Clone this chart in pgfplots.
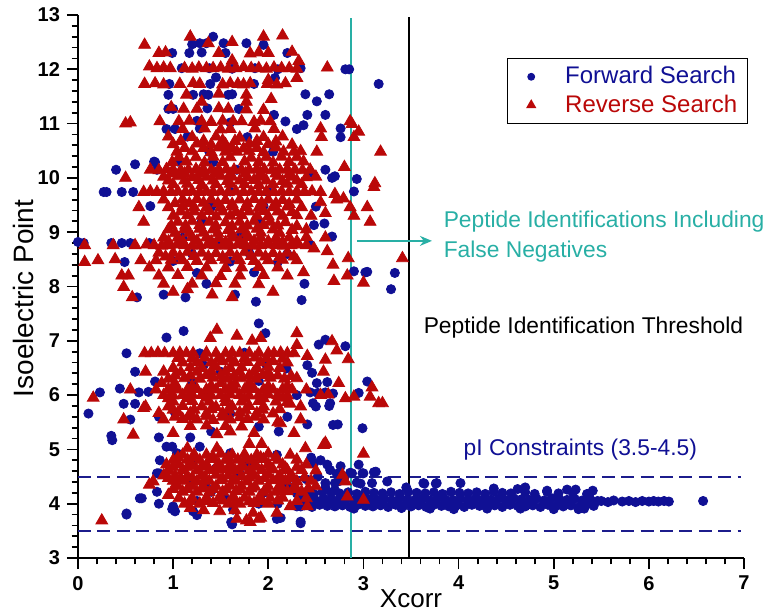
\documentclass[border=0pt]{standalone}
\usepackage{fontspec}
\setmainfont{Liberation Sans}
\usepackage{pgfplots}
\pgfplotsset{compat=1.18}
\usetikzlibrary{arrows.meta}
\definecolor{fwd}{RGB}{16,16,148}
\definecolor{rev}{RGB}{186,8,8}
\definecolor{tealc}{RGB}{40,175,165}
\definecolor{dashc}{RGB}{28,28,140}
\newcommand{\annfont}{\fontsize{11.4}{15}\selectfont}

\begin{document}
\begin{tikzpicture}
\begin{axis}[
  scale only axis, width=333pt, height=271.5pt,
  xmin=0, xmax=7, ymin=3, ymax=13,
  axis lines=left, axis line style={-, line width=1pt},
  clip=false,
  xtick={0,...,7}, ytick={3,...,13},
  minor x tick num=4, minor y tick num=4,
  tick align=outside,
  major tick length=5.5pt, minor tick length=3.2pt,
  tick style={black, line width=0.9pt},
  ticklabel style={font=\bfseries\fontsize{10}{12}\selectfont},
  /pgf/number format/assume math mode=true,
  xlabel={Xcorr}, ylabel={Isoelectric Point},
  xlabel style={at={(axis description cs:0.5,0)}, anchor=base, yshift=-24.5pt, font=\fontsize{13}{15}\selectfont},
  ylabel style={at={(axis description cs:-0.0811,0.478)}, anchor=center, font=\fontsize{14}{16}\selectfont},
  legend style={at={(rel axis cs:1.006,0.921)}, anchor=north east, draw=black, line width=0.7pt,
    font=\fontsize{12}{14}\selectfont, cells={anchor=west}},
  legend image code/.code={\path[draw=none] (0pt,0pt) -- (24pt,0pt); \path[#1, draw=none] plot coordinates {(9pt,0pt)};},
]
\addlegendimage{only marks, mark=*, mark size=1.6pt, color=fwd, mark options={draw=fwd}}
\addlegendentry{\textcolor{fwd}{Forward Search}}
\addlegendimage{only marks, mark=triangle*, mark size=2.3pt, color=rev, mark options={draw=rev}}
\addlegendentry{\textcolor{rev}{Reverse Search}}

% forward search, upper group
\addplot[only marks, mark=*, mark size=2.3pt, color=fwd, forget plot] coordinates {
(1.42,12.60)(1.20,12.46)(1.28,12.48)(1.35,12.48)(1.53,12.48)(1.77,12.48)(1.95,12.45)
(0.99,12.30)(1.17,12.30)(1.30,12.31)(1.55,12.30)(2.20,12.30)
(1.09,12.02)(1.38,12.02)(1.62,12.01)(1.86,12.02)(2.10,12.00)(2.34,12.02)(2.81,12.00)(2.85,12.00)
(2.07,11.84)(1.45,11.85)(0.96,11.73)(1.39,11.73)(1.85,11.73)(3.16,11.73)
(0.95,11.53)(1.21,11.53)(1.32,11.54)(1.37,11.53)(1.58,11.53)(1.62,11.54)(2.39,11.54)(2.64,11.54)(2.51,11.41)
(0.95,11.27)(1.00,11.27)(1.36,11.28)(1.69,11.27)(2.41,11.16)(2.60,11.16)(2.06,11.16)
(2.18,11.04)(1.25,11.05)(1.60,11.02)(0.93,10.90)(1.02,10.90)(1.28,10.91)(2.30,10.90)(2.37,10.97)(2.76,10.91)
(2.76,10.75)(1.15,10.76)(1.78,10.75)(1.38,10.48)(2.05,10.48)(0.81,10.29)(1.42,10.29)(1.05,10.30)
(0.40,10.15)(0.60,10.25)(0.80,10.30)(0.83,10.15)(1.67,10.15)(2.44,10.10)(2.60,10.15)
(2.67,10.00)(2.93,9.98)(2.70,10.03)
(0.27,9.74)(0.30,9.74)(0.46,9.74)(0.58,9.74)(1.60,9.75)(2.00,9.74)(2.90,9.75)
(0.76,9.48)(1.40,9.47)(1.95,9.48)(2.50,9.47)(2.48,9.13)(2.59,9.16)(1.30,9.19)(1.90,9.20)
(2.67,8.92)(1.10,8.90)(1.70,8.91)
(0.00,8.82)(0.06,8.80)(0.35,8.80)(0.46,8.80)(0.55,8.80)(0.75,8.80)(1.50,8.78)(2.44,8.77)
(1.20,8.60)(1.80,8.62)(2.20,8.60)(0.49,8.45)(1.00,8.47)(1.60,8.46)(2.10,8.45)
(3.02,8.26)(2.90,8.28)(3.04,8.27)(3.33,8.25)(1.25,8.25)(1.85,8.26)(2.38,8.05)(3.29,7.95)(1.35,8.05)
(0.62,7.80)(0.90,7.85)(1.13,7.80)(1.87,7.72)(2.35,7.75)(1.65,7.85)
};
% forward search, middle group
\addplot[only marks, mark=*, mark size=2.3pt, color=fwd, forget plot] coordinates {
(1.90,7.32)(1.11,7.18)(0.93,7.06)(1.97,7.14)(2.53,6.93)(2.60,7.02)(2.81,6.90)
(0.51,6.77)(1.28,6.77)(1.75,6.78)(2.41,6.55)(1.32,6.55)(1.98,6.56)
(0.60,6.43)(1.50,6.43)(2.19,6.49)(2.46,6.41)(0.81,6.25)(2.51,6.22)(2.62,6.24)(3.04,6.25)(1.20,6.25)(1.90,6.26)
(0.23,6.05)(0.44,6.12)(0.64,6.05)(0.74,6.06)(2.44,6.05)(2.52,6.04)(2.60,6.05)(2.68,6.03)(2.95,6.04)(2.30,6.00)(1.35,6.05)
(0.48,5.84)(0.60,5.84)(2.47,5.85)(2.65,5.85)(2.50,5.79)(2.64,5.80)
(0.11,5.66)(1.02,5.67)(1.60,5.66)(0.55,5.55)(0.85,5.60)(2.20,5.60)
(2.41,5.46)(2.73,5.46)(2.68,5.45)(1.90,5.42)(2.11,5.33)(2.99,5.39)(1.40,5.33)
(0.35,5.25)(0.85,5.22)(1.18,5.22)(0.36,5.17)
};
% forward search, lower group
\addplot[only marks, mark=*, mark size=2.3pt, color=fwd, forget plot] coordinates {
(0.93,5.05)(1.28,5.05)(0.99,5.05)(1.04,4.93)(2.09,4.90)(1.60,4.93)
(2.48,4.74)(2.62,4.72)(2.76,4.69)(2.95,4.72)(0.86,4.80)(1.20,4.74)
(0.83,4.56)(0.85,4.56)(2.86,4.57)(3.00,4.56)(3.11,4.58)(3.13,4.59)(2.88,4.56)(2.99,4.56)
(2.97,4.37)(3.09,4.38)(3.25,4.41)(2.93,4.39)(2.60,4.38)(2.70,4.38)
(0.83,4.22)(1.40,4.22)(0.65,4.10)(0.67,4.10)(1.55,4.10)(0.85,4.00)(1.00,3.95)(2.34,3.95)(1.90,4.00)
(1.02,3.86)(1.21,3.86)(1.63,3.89)(0.99,3.90)(0.51,3.82)(0.51,3.80)
(2.13,3.74)(2.09,3.72)(2.34,3.67)(1.61,3.66)(1.62,3.62)(1.25,3.79)(2.34,3.64)
(2.45,4.85)(2.55,4.80)(2.65,4.62)(2.72,4.55)(2.80,4.48)(2.52,4.50)(2.40,4.45)(2.60,4.30)(2.70,4.25)(2.75,4.42)
(1.15,4.45)(1.35,4.30)(1.70,4.55)(1.95,4.20)(2.10,4.00)(1.80,4.75)(1.45,4.65)(1.25,4.05)(2.20,4.35)
};
% forward search, high-Xcorr band
\addplot[only marks, mark=*, mark size=2.3pt, color=fwd, forget plot] coordinates {
(2.30,3.95)(2.38,3.97)(2.46,3.94)(2.54,3.98)(2.62,3.96)(2.70,3.95)(2.78,3.97)(2.86,3.94)(2.94,3.98)(3.02,3.96)
(3.10,3.95)(3.18,3.97)(3.26,3.94)(3.34,3.98)(3.42,3.96)(3.50,3.95)(3.58,3.97)(3.66,3.94)(3.74,3.98)(3.82,3.96)
(3.90,3.95)(3.98,3.97)(4.06,3.94)(4.14,3.98)(4.22,3.96)(4.30,3.95)(4.38,3.97)(4.46,3.94)(4.54,3.98)(4.62,3.96)
(4.70,3.95)(4.78,3.97)(4.86,3.94)(4.94,3.98)(5.02,3.96)(5.10,3.95)(5.18,3.97)(5.26,3.94)(5.34,3.98)(5.42,3.96)
(3.95,3.90)(4.30,3.91)(5.26,3.90)(5.32,3.91)(2.90,3.91)(3.40,3.92)(3.70,3.91)(4.65,3.91)(5.00,3.90)
(2.34,4.07)(2.42,4.09)(2.50,4.06)(2.58,4.10)(2.66,4.08)(2.74,4.07)(2.82,4.09)(2.90,4.06)(2.98,4.10)(3.06,4.08)
(3.14,4.07)(3.22,4.09)(3.30,4.06)(3.38,4.10)(3.46,4.08)(3.54,4.07)(3.62,4.09)(3.70,4.06)(3.78,4.10)(3.86,4.08)
(3.94,4.07)(4.02,4.09)(4.10,4.06)(4.18,4.10)(4.26,4.08)(4.34,4.07)(4.42,4.09)(4.50,4.06)(4.58,4.10)(4.66,4.08)
(4.74,4.07)(4.82,4.09)(4.90,4.06)(4.98,4.10)(5.06,4.08)(5.14,4.07)(5.22,4.09)(5.30,4.06)(5.38,4.10)(5.46,4.05)
(2.30,4.19)(2.39,4.21)(2.48,4.18)(2.57,4.22)(2.66,4.20)(2.75,4.19)(2.84,4.21)(2.93,4.18)(3.02,4.22)(3.11,4.20)
(3.20,4.19)(3.29,4.21)(3.38,4.18)(3.47,4.22)(3.56,4.20)(3.65,4.19)(3.74,4.21)(3.83,4.18)(3.92,4.22)(4.01,4.20)
(4.10,4.19)(4.19,4.21)(4.28,4.18)(4.37,4.22)(4.46,4.20)(4.55,4.19)(4.70,4.21)(4.80,4.18)(4.93,4.22)(5.05,4.19)
(5.20,4.20)(5.35,4.18)
(3.63,4.38)(3.77,4.38)(4.02,4.38)(3.64,4.37)(3.76,4.37)(4.37,4.28)(4.62,4.27)(4.93,4.24)(5.14,4.26)(5.23,4.26)(5.41,4.24)(4.70,4.30)(3.45,4.30)
(5.50,4.05)(5.57,4.03)(5.63,4.06)(5.72,4.04)(5.79,4.05)(5.86,4.03)(5.93,4.05)(6.00,4.04)(6.05,4.05)(6.10,4.04)(6.16,4.05)(6.21,4.04)(6.57,4.05)
};
% reverse search, upper group
\addplot[only marks, mark=triangle*, mark size=3.4pt, color=rev, forget plot] coordinates {
(1.18,12.60)(1.95,12.60)(2.15,12.62)(0.70,12.45)(1.37,12.48)(1.62,12.50)
(0.85,12.30)(0.92,12.31)(1.48,12.30)(1.81,12.29)(1.90,12.31)(2.00,12.30)(2.25,12.32)(1.62,12.16)(2.32,12.15)
(0.75,12.05)(0.83,12.02)(0.90,12.03)(0.97,12.02)(1.12,12.02)(1.20,12.01)(1.27,12.03)(1.35,12.02)(1.42,12.02)(1.50,12.03)
(1.58,12.01)(1.66,12.02)(1.74,12.04)(1.82,12.02)(1.90,12.02)(1.98,12.01)(2.06,12.03)(2.14,12.02)(2.22,12.02)(2.30,12.01)(2.62,12.03)
(2.00,11.80)(2.30,11.84)
(0.70,11.73)(0.81,11.74)(0.90,11.72)(1.07,11.73)(1.21,11.74)(1.28,11.73)(1.52,11.72)(1.60,11.74)(1.68,11.73)(1.74,11.72)
(1.81,11.74)(1.99,11.73)(2.09,11.72)(2.18,11.74)
(1.14,11.53)(1.48,11.55)(1.77,11.53)(1.30,11.40)(1.77,11.40)(2.03,11.45)
(0.98,11.30)(1.11,11.27)(1.25,11.27)(1.48,11.28)(1.58,11.27)(1.77,11.26)(1.95,11.25)
(0.50,11.00)(0.55,11.02)(0.86,11.04)(1.06,11.04)(1.17,11.05)(1.30,11.04)(1.40,11.03)(1.52,11.05)(1.63,11.04)(1.72,11.04)
(1.85,11.03)(1.92,11.05)(2.02,11.04)(2.86,11.04)(2.88,10.99)
(1.10,10.90)(1.33,10.91)(1.50,10.89)(1.60,10.90)(1.86,10.91)(2.06,10.90)(2.55,10.91)(2.95,10.85)(2.90,10.75)
(0.95,10.76)(1.20,10.75)(1.45,10.76)(1.70,10.74)(1.95,10.75)(2.15,10.76)(2.56,10.75)
(1.08,10.68)(1.32,10.68)(1.52,10.69)(1.65,10.68)(1.88,10.68)(2.08,10.67)
(1.00,10.62)(1.25,10.63)(1.40,10.61)(1.55,10.62)(1.80,10.63)(2.00,10.62)(2.25,10.61)
(1.12,10.55)(1.32,10.55)(1.48,10.56)(1.62,10.55)(1.74,10.54)(1.88,10.55)(2.08,10.56)
(1.04,10.48)(1.20,10.49)(1.40,10.47)(1.55,10.48)(1.67,10.48)(1.80,10.49)(1.95,10.47)(2.16,10.48)(2.27,10.48)(2.34,10.49)(2.51,10.48)(3.18,10.48)
(1.06,10.38)(1.24,10.38)(1.42,10.39)(1.60,10.38)(1.82,10.37)(1.98,10.38)(2.14,10.39)(2.30,10.38)
(0.99,10.29)(1.14,10.30)(1.33,10.28)(1.52,10.29)(1.75,10.30)(1.90,10.29)(2.05,10.28)(2.22,10.29)(2.37,10.30)
(0.76,10.15)(0.85,10.14)(0.93,10.16)(1.00,10.15)(1.08,10.14)(1.16,10.15)(1.24,10.16)(1.32,10.15)(1.40,10.14)(1.48,10.15)
(1.56,10.16)(1.64,10.15)(1.72,10.14)(1.80,10.15)(1.88,10.16)(1.96,10.15)(2.04,10.14)(2.12,10.15)(2.20,10.16)(2.28,10.15)(2.36,10.14)(2.44,10.15)
(0.98,10.08)(1.12,10.08)(1.28,10.09)(1.44,10.08)(1.60,10.07)(1.76,10.08)(1.92,10.09)(2.08,10.08)(2.22,10.07)
(0.50,10.00)(0.90,10.02)(1.05,10.03)(1.20,10.01)(1.35,10.02)(1.50,10.03)(1.62,10.02)(1.78,10.01)(1.92,10.02)(2.10,10.03)
(2.25,10.02)(2.40,10.01)(2.50,10.02)(2.80,10.20)(3.12,9.90)
(0.95,9.95)(1.12,9.95)(1.27,9.96)(1.42,9.95)(1.57,9.94)(1.70,9.95)(1.85,9.96)(1.98,9.95)(2.15,9.94)(2.30,9.95)
(1.00,9.88)(1.15,9.89)(1.30,9.87)(1.45,9.88)(1.60,9.89)(1.75,9.88)(1.90,9.87)(2.05,9.88)(2.20,9.89)(2.35,9.88)(3.11,9.83)
(0.69,9.74)(0.76,9.75)(0.83,9.74)(0.90,9.75)(0.98,9.74)(1.05,9.75)(1.13,9.74)(1.20,9.75)(1.28,9.74)(1.35,9.75)
(1.42,9.74)(1.50,9.75)(1.58,9.74)(1.66,9.75)(1.74,9.74)(1.82,9.75)(1.90,9.74)(1.98,9.75)(2.06,9.74)(2.14,9.75)
(2.22,9.74)(2.30,9.75)(2.38,9.74)(2.46,9.75)(2.55,9.74)(2.70,9.70)
(0.90,9.60)(1.10,9.60)(1.25,9.61)(1.40,9.60)(1.55,9.59)(1.70,9.60)(1.85,9.61)(2.00,9.60)(2.15,9.59)(2.30,9.60)(2.55,9.55)(2.72,9.60)(2.79,9.62)
(1.02,9.53)(1.17,9.53)(1.32,9.54)(1.47,9.53)(1.62,9.52)(1.78,9.53)(1.93,9.54)(2.08,9.53)(2.22,9.52)
(0.64,9.46)(0.95,9.46)(1.10,9.47)(1.22,9.46)(1.35,9.45)(1.50,9.46)(1.62,9.47)(1.76,9.46)(1.90,9.45)(2.05,9.46)(2.20,9.47)(2.35,9.46)(2.86,9.46)(3.04,9.46)
(1.08,9.38)(1.22,9.38)(1.38,9.39)(1.52,9.38)(1.66,9.37)(1.80,9.38)(1.95,9.39)(2.10,9.38)(2.25,9.37)
(1.00,9.30)(1.15,9.31)(1.30,9.30)(1.45,9.29)(1.60,9.30)(1.72,9.31)(1.88,9.30)(2.00,9.29)(2.15,9.30)(2.30,9.31)(2.45,9.30)(2.60,9.35)(2.90,9.30)
(0.69,9.19)(1.05,9.19)(1.20,9.20)(1.38,9.19)(1.55,9.18)(1.70,9.19)(1.85,9.20)(2.02,9.19)(2.18,9.18)(3.07,9.19)
(0.98,9.12)(1.13,9.12)(1.28,9.13)(1.45,9.12)(1.62,9.11)(1.78,9.12)(1.95,9.13)(2.10,9.12)(2.30,9.11)
(0.95,9.05)(1.12,9.05)(1.28,9.06)(1.42,9.05)(1.58,9.04)(1.72,9.05)(1.88,9.06)(2.05,9.05)(2.25,9.04)(2.40,9.05)
(1.02,8.98)(1.17,8.98)(1.32,8.99)(1.47,8.98)(1.62,8.97)(1.77,8.98)(1.92,8.99)(2.12,8.98)
(0.90,8.90)(1.05,8.90)(1.20,8.91)(1.35,8.90)(1.48,8.89)(1.62,8.90)(1.78,8.91)(1.92,8.90)(2.08,8.89)(2.22,8.90)(2.40,8.91)(2.60,8.90)
(0.95,8.83)(1.10,8.83)(1.25,8.84)(1.40,8.83)(1.55,8.82)(1.70,8.83)(1.85,8.84)(2.00,8.83)(2.15,8.82)(2.30,8.83)
(0.07,8.76)(0.37,8.76)(0.60,8.76)(0.72,8.77)(0.80,8.76)(0.88,8.75)(0.96,8.76)(1.04,8.77)(1.12,8.76)(1.20,8.75)
(1.28,8.76)(1.36,8.77)(1.44,8.76)(1.52,8.75)(1.60,8.76)(1.68,8.77)(1.76,8.76)(1.84,8.75)(1.92,8.76)(2.00,8.77)
(2.08,8.76)(2.16,8.75)(2.24,8.76)(2.32,8.77)(2.40,8.76)(2.48,8.70)(2.62,8.65)
(0.85,8.62)(1.00,8.62)(1.15,8.63)(1.30,8.62)(1.45,8.61)(1.60,8.62)(1.75,8.63)(1.90,8.62)(2.05,8.61)(2.20,8.62)
(0.92,8.55)(1.07,8.55)(1.22,8.56)(1.37,8.55)(1.52,8.54)(1.67,8.55)(1.82,8.56)(1.97,8.55)(2.12,8.54)(2.27,8.55)
(0.07,8.45)(0.21,8.48)(0.39,8.50)(0.66,8.48)(0.82,8.48)(0.98,8.49)(1.10,8.48)(1.25,8.47)(1.40,8.48)(1.55,8.49)
(1.70,8.48)(1.85,8.47)(2.00,8.48)(2.15,8.49)(2.30,8.48)(2.84,8.52)(2.68,8.40)(3.41,8.52)
(0.75,8.35)(0.95,8.35)(1.15,8.36)(1.35,8.35)(1.55,8.34)(1.72,8.35)(1.90,8.36)(2.10,8.35)(2.37,8.26)
(0.46,8.20)(0.53,8.20)(0.85,8.20)(1.05,8.21)(1.30,8.20)(1.50,8.19)(1.70,8.20)(1.95,8.21)(2.20,8.20)(2.83,8.20)
(0.90,8.05)(1.20,8.05)(1.45,8.06)(1.65,8.05)(1.90,8.04)(2.69,8.10)(3.00,8.07)
(0.48,7.99)(0.57,7.80)(1.41,7.85)(1.62,7.80)(1.00,7.90)(1.15,7.95)(2.05,7.90)
};
% reverse search, middle group
\addplot[only marks, mark=triangle*, mark size=3.4pt, color=rev, forget plot] coordinates {
(1.46,7.20)(1.67,7.09)(2.30,7.14)(1.39,7.05)(1.92,7.05)(1.83,7.00)(2.67,6.99)(2.30,6.92)(2.72,6.82)
(0.70,6.77)(0.77,6.77)(0.84,6.78)(0.91,6.77)(1.00,6.77)(1.07,6.78)(1.14,6.77)(1.21,6.77)(1.35,6.78)(1.45,6.77)
(1.55,6.77)(1.62,6.78)(1.70,6.77)(1.80,6.77)(1.90,6.78)(2.00,6.77)(2.06,6.77)(2.13,6.78)(2.20,6.77)(2.27,6.77)
(2.41,6.72)(2.60,6.65)(2.84,6.66)
(1.05,6.68)(1.20,6.68)(1.33,6.69)(1.48,6.68)(1.60,6.67)(1.75,6.68)(1.86,6.69)(1.98,6.68)(2.15,6.67)
(1.10,6.60)(1.25,6.61)(1.40,6.60)(1.52,6.62)(1.65,6.60)(1.78,6.61)(1.92,6.60)(2.05,6.62)(2.20,6.60)
(1.00,6.50)(1.18,6.51)(1.30,6.50)(1.45,6.52)(1.60,6.50)(1.72,6.51)(1.88,6.50)(2.00,6.52)(2.12,6.50)
(0.71,6.43)(0.90,6.43)(1.08,6.42)(1.25,6.43)(1.40,6.44)(1.55,6.43)(1.70,6.42)(1.85,6.43)(2.00,6.42)(2.58,6.43)
(1.02,6.36)(1.18,6.36)(1.35,6.37)(1.50,6.36)(1.64,6.35)(1.80,6.36)(1.94,6.37)(2.10,6.36)(2.24,6.35)
(0.95,6.30)(1.12,6.31)(1.28,6.30)(1.42,6.32)(1.57,6.30)(1.72,6.31)(1.87,6.30)(2.02,6.32)(2.17,6.30)(2.30,6.31)
(0.88,6.22)(1.02,6.21)(1.50,6.22)(1.65,6.21)(1.80,6.22)(2.74,6.22)
(1.00,6.16)(1.20,6.16)(1.40,6.17)(1.60,6.16)(1.80,6.15)(2.00,6.16)(2.20,6.17)
(0.55,6.10)(0.82,6.10)(0.95,6.11)(1.05,6.10)(1.15,6.10)(1.25,6.11)(1.35,6.10)(1.45,6.10)(1.55,6.11)(1.65,6.10)
(1.75,6.10)(1.85,6.11)(1.95,6.10)(2.05,6.10)(2.15,6.11)(2.25,6.10)(2.40,6.10)(3.09,6.14)
(0.16,5.95)(0.90,6.00)(1.00,5.99)(1.10,6.00)(1.20,6.01)(1.30,6.00)(1.40,5.99)(1.50,6.00)(1.60,6.01)(1.70,6.00)
(1.80,5.99)(1.90,6.00)(2.00,6.01)(2.10,6.00)(2.20,5.99)(2.55,6.00)(2.63,6.01)(2.81,5.94)(2.90,5.97)(3.07,5.97)
(0.95,5.94)(1.15,5.94)(1.35,5.95)(1.55,5.94)(1.75,5.93)(1.95,5.94)(2.15,5.95)
(1.00,5.88)(1.20,5.89)(1.38,5.88)(1.55,5.87)(1.72,5.88)(1.90,5.89)(2.08,5.88)(2.20,5.87)(3.16,5.85)(3.20,5.85)
(0.71,5.79)(0.69,5.76)(0.95,5.79)(1.10,5.80)(1.30,5.79)(1.45,5.78)(1.62,5.79)(1.80,5.80)(1.95,5.79)(2.23,5.84)(2.34,5.79)
(1.00,5.73)(1.22,5.73)(1.40,5.74)(1.58,5.73)(1.76,5.72)(1.94,5.73)(2.12,5.74)
(0.85,5.67)(1.05,5.68)(1.18,5.67)(1.35,5.66)(1.52,5.67)(1.70,5.68)(1.88,5.67)(2.05,5.66)
(1.02,5.60)(1.18,5.60)(1.35,5.61)(1.52,5.60)(1.70,5.59)(1.86,5.60)
(0.48,5.55)(0.90,5.55)(1.10,5.56)(1.25,5.55)(1.42,5.54)(1.60,5.55)(1.78,5.56)(1.95,5.55)(2.34,5.55)(2.10,5.50)
(1.18,5.43)(1.35,5.44)(1.55,5.43)(1.72,5.42)(2.13,5.48)(2.27,5.30)
(0.58,5.27)(1.00,5.30)(1.46,5.28)(1.60,5.33)(1.85,5.30)(2.60,5.12)(2.58,5.08)
};
% reverse search, lower group
\addplot[only marks, mark=triangle*, mark size=3.4pt, color=rev, forget plot] coordinates {
(1.80,5.10)(1.93,5.10)(2.60,5.10)(1.46,5.02)(2.39,5.02)(1.15,5.02)
(1.10,4.90)(1.22,4.91)(1.35,4.90)(1.50,4.92)(1.62,4.90)(1.75,4.91)(1.88,4.90)(2.00,4.92)(2.23,4.90)(3.00,4.92)
(1.05,4.85)(1.22,4.85)(1.42,4.86)(1.58,4.85)(1.76,4.84)(1.92,4.85)(2.08,4.86)
(1.00,4.80)(1.15,4.81)(1.28,4.80)(1.40,4.82)(1.55,4.80)(1.68,4.81)(1.82,4.80)(1.95,4.82)(2.10,4.80)(2.30,4.81)
(0.93,4.72)(1.06,4.72)(1.20,4.71)(1.35,4.72)(1.48,4.73)(1.60,4.72)(1.72,4.71)(1.86,4.72)(2.00,4.73)(2.15,4.72)(2.40,4.72)
(1.00,4.67)(1.15,4.67)(1.30,4.68)(1.45,4.67)(1.58,4.66)(1.74,4.67)(1.88,4.68)(2.02,4.67)(2.18,4.66)(2.30,4.67)
(0.95,4.62)(1.10,4.62)(1.25,4.61)(1.38,4.62)(1.52,4.63)(1.65,4.62)(1.80,4.61)(1.93,4.62)(2.05,4.63)(2.20,4.62)(2.35,4.62)(2.50,4.61)
(0.90,4.52)(1.02,4.52)(1.15,4.51)(1.30,4.52)(1.45,4.53)(1.58,4.52)(1.72,4.51)(1.85,4.52)(2.00,4.53)(2.12,4.52)(2.25,4.51)(2.78,4.53)
(0.95,4.47)(1.08,4.47)(1.20,4.48)(1.34,4.47)(1.52,4.46)(1.64,4.47)(1.80,4.48)(1.96,4.47)(2.10,4.46)(2.22,4.47)(2.38,4.48)
(0.79,4.41)(1.00,4.42)(1.12,4.42)(1.25,4.41)(1.38,4.42)(1.50,4.43)(1.65,4.42)(1.78,4.41)(1.90,4.42)(2.05,4.43)(2.18,4.42)(2.30,4.41)(2.45,4.42)(2.81,4.41)
(0.75,4.35)(1.05,4.32)(1.20,4.32)(1.32,4.31)(1.45,4.32)(1.60,4.33)(1.72,4.32)(1.86,4.31)(2.00,4.32)(2.12,4.33)(2.28,4.32)(2.50,4.32)
(1.00,4.27)(1.15,4.27)(1.30,4.28)(1.42,4.27)(1.56,4.26)(1.70,4.27)(1.82,4.28)(1.98,4.27)(2.15,4.26)(2.28,4.27)(2.42,4.28)
(0.95,4.16)(1.10,4.22)(1.25,4.22)(1.38,4.21)(1.52,4.22)(1.66,4.23)(1.80,4.22)(1.95,4.21)(2.08,4.22)(2.20,4.23)(2.35,4.22)(2.83,4.13)
(1.06,4.10)(1.20,4.10)(1.35,4.11)(1.48,4.10)(1.62,4.10)(1.75,4.11)(1.90,4.10)(2.02,4.10)(2.15,4.11)(2.40,4.10)(3.00,4.07)
(1.18,4.05)(1.35,4.05)(1.52,4.06)(1.66,4.05)(1.80,4.04)(1.94,4.05)(2.10,4.06)(2.30,4.05)
(1.12,4.00)(1.28,4.00)(1.42,4.01)(1.58,4.00)(1.70,4.00)(1.85,4.01)(2.00,4.00)(2.23,3.95)(2.41,3.95)
(1.18,3.92)(1.49,3.86)(1.84,3.83)(2.09,3.83)(1.32,3.88)(1.65,3.88)
(1.67,3.72)(1.77,3.69)(1.81,3.66)(1.92,3.74)(1.90,3.72)(0.25,3.69)
};

% reference lines and notes
\draw[dashc, line width=1pt, dash pattern=on 6.5pt off 3.2pt] (axis cs:0,4.5) -- (axis cs:6.97,4.5);
\draw[dashc, line width=1pt, dash pattern=on 6.5pt off 3.2pt] (axis cs:0,3.5) -- (axis cs:6.97,3.5);
\draw[tealc, line width=0.8pt] (axis cs:2.87,3) -- (axis cs:2.87,12.95);
\draw[black, line width=0.8pt] (axis cs:3.48,3) -- (axis cs:3.48,12.97);
\draw[tealc, line width=0.8pt, -{Stealth[length=6pt,width=5pt]}] (axis cs:2.93,8.84) -- (axis cs:3.72,8.84);
\node[anchor=west, inner sep=0pt, align=left, text=tealc, font=\annfont] at (axis cs:3.84,8.91)
  {Peptide Identifications Including\\False Negatives};
\node[anchor=west, inner sep=0pt, font=\annfont] at (axis cs:3.63,7.25) {Peptide Identification Threshold};
\node[anchor=west, inner sep=0pt, text=fwd, font=\annfont] at (axis cs:4.05,4.99) {pI Constraints (3.5-4.5)};

\coordinate (bbsw) at (axis cs:-0.8198,1.969);
\coordinate (bbne) at (axis cs:7.231,13.276);
\end{axis}
\pgfresetboundingbox
\path[use as bounding box] (bbsw) rectangle (bbne);
\end{tikzpicture}
\end{document}
